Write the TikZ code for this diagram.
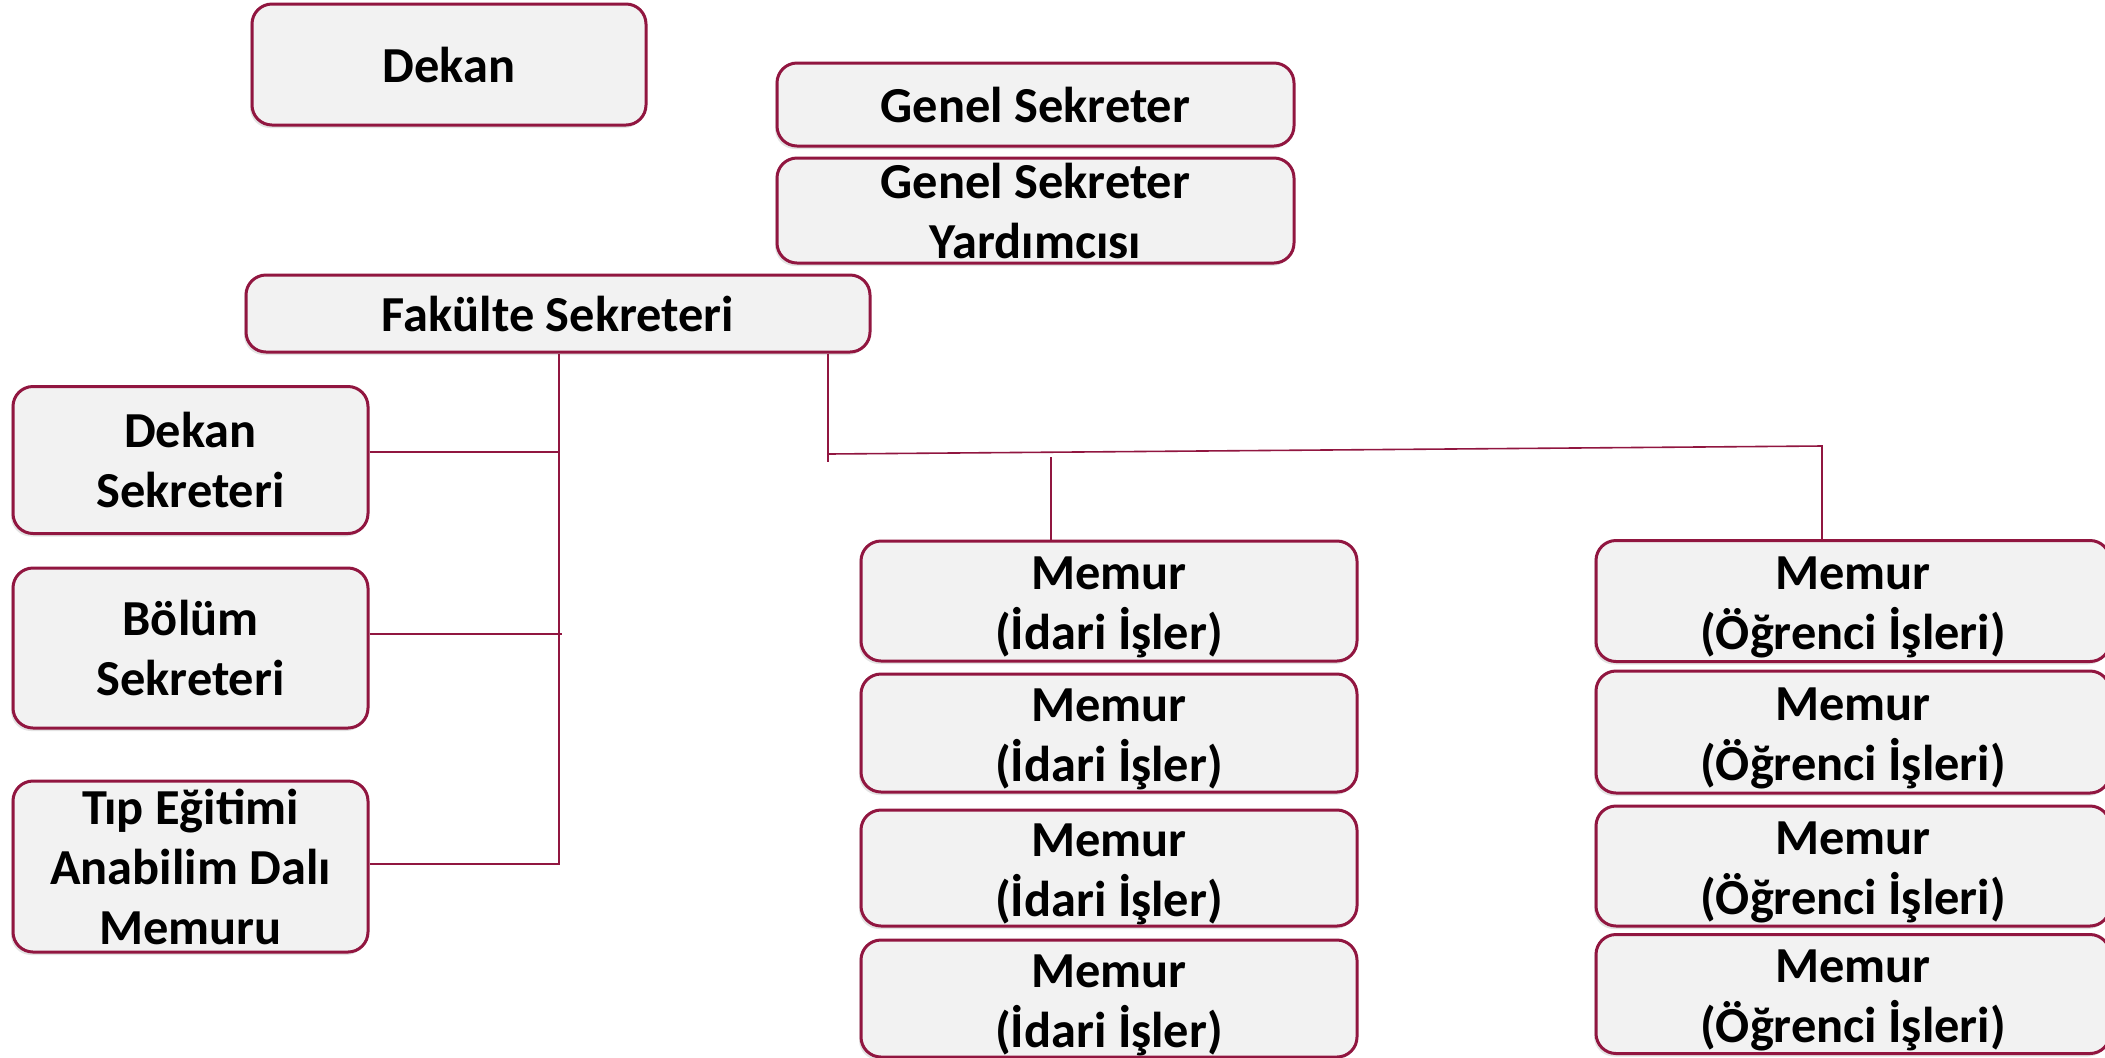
\documentclass[tikz,border=0pt]{standalone}
\usepackage{fontspec}
\setmainfont{Carlito}
\usetikzlibrary{shadows}
\definecolor{frame}{RGB}{145,22,64}
\definecolor{boxfill}{RGB}{242,242,242}
\newcommand\memtop{\rule{0pt}{23pt}}
\begin{document}
\begin{tikzpicture}[x=0.5pt,y=-0.5pt,
  box/.style={draw=frame, line width=1.5pt, fill=boxfill, rounded corners=10pt,
    inner sep=0pt, align=center, font=\fontsize{25.2}{30}\selectfont\bfseries,
    drop shadow={shadow xshift=-1pt, shadow yshift=-1.5pt, opacity=0.22}},
  conn/.style={draw=frame, line width=0.8pt}]
\useasboundingbox (0,0) rectangle (2105,1057);
\fill[white] (0,0) rectangle (2105,1057);
\begin{scope}
\clip (0,0) rectangle (2105,1057);
\node[box, minimum width=197pt, minimum height=60.5pt] (dekan) at (449,64.5) {Dekan};
\node[box, minimum width=258.5pt, minimum height=41.5pt] (gs) at (1035.5,104.5) {Genel Sekreter};
\node[box, minimum width=258.5pt, minimum height=52.5pt] (gsy) at (1035.5,210.5) {Genel Sekreter\\Yardımcısı};
\node[box, minimum width=312pt, minimum height=38.5pt] (fak) at (558,313.5) {Fakülte Sekreteri};
\node[box, minimum width=177.5pt, minimum height=73.5pt] (dsek) at (190.5,460) {Dekan\\Sekreteri};
\node[box, minimum width=177.5pt, minimum height=80pt] (bol) at (190.5,648) {Bölüm\\Sekreteri};
\node[box, minimum width=177.5pt, minimum height=85.5pt] (tip) at (190.5,866.5) {Tıp Eğitimi\\Anabilim Dalı\\Memuru};
\node[box, minimum width=248pt, minimum height=60pt] (id1) at (1109,601) {\memtop Memur\\(İdari İşler)};
\node[box, minimum width=248pt, minimum height=59pt] (id2) at (1109,733) {\memtop Memur\\(İdari İşler)};
\node[box, minimum width=248pt, minimum height=58pt] (id3) at (1109,868) {\memtop Memur\\(İdari İşler)};
\node[box, minimum width=248pt, minimum height=58.5pt] (id4) at (1109,998.5) {\memtop Memur\\(İdari İşler)};
\node[box, minimum width=257pt, minimum height=60.5pt] (og1) at (1853,601) {\memtop Memur\\(Öğrenci İşleri)};
\node[box, minimum width=257pt, minimum height=61pt] (og2) at (1853,732) {\memtop Memur\\(Öğrenci İşleri)};
\node[box, minimum width=257pt, minimum height=60pt] (og3) at (1853,866) {\memtop Memur\\(Öğrenci İşleri)};
\node[box, minimum width=257pt, minimum height=59.5pt] (og4) at (1853,994) {\memtop Memur\\(Öğrenci İşleri)};
\end{scope}
% left branch
\coordinate (lj) at (559,864);
\draw[conn] (fak.south -| lj) -- (lj) -- (tip.east |- lj);
\draw[conn] (dsek.east |- 0,452) -- (559,452);
\draw[conn] (bol.east |- 0,634) -- (562,634);
% right branch
\coordinate (h1) at (828,454);
\coordinate (h2) at (1822,446);
\draw[conn] (fak.south -| h1) -- (828,462);
\draw[conn] (h1) -- (h2) -- (og1.north -| h2);
\draw[conn] (id1.north -| 1051,0) -- (1051,457);
\end{tikzpicture}
\end{document}
